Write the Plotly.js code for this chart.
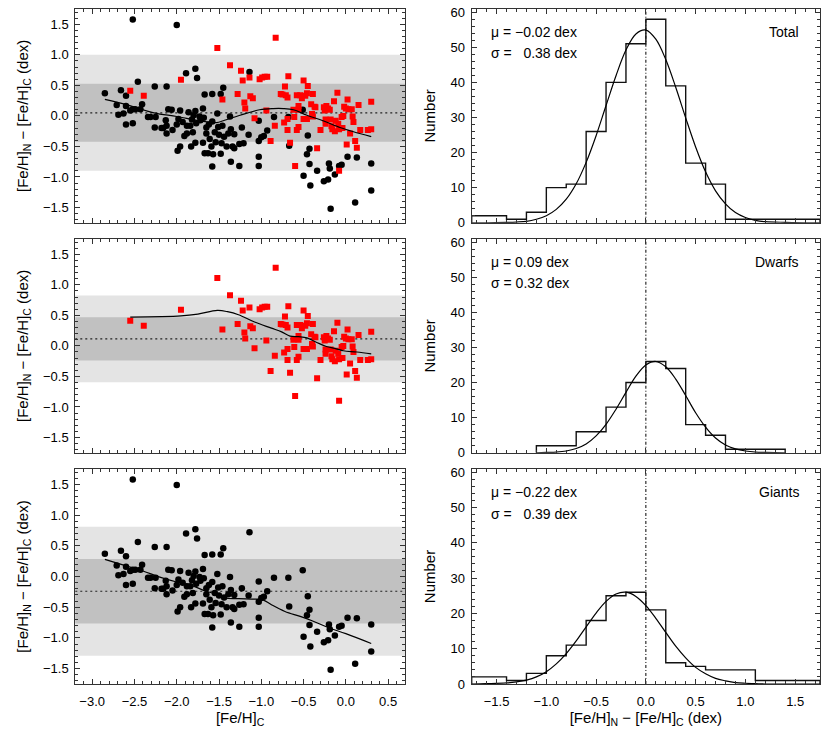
<!DOCTYPE html>
<html>
<head>
<meta charset="utf-8">
<script src="https://cdn.plot.ly/plotly-3.0.1.min.js"></script>
<style>
  html, body { margin: 0; padding: 0; background: #fff; }
  #chart { width: 830px; height: 740px; }
</style>
</head>
<body>
<div id="chart"></div>
<script>
// [Fe/H] from the catalogue (C) vs. the new determination (N): giants, dwarfs and both together.

const FONT = "Liberation Sans, Arial, Helvetica, sans-serif";
const AX = "#333";

// Giants (black circles): [Fe/H]_C and [Fe/H]_N - [Fe/H]_C
const giantFeH = [
  -2.85, -2.71, -2.69, -2.66, -2.63, -2.60, -2.60, -2.60, -2.55, -2.52,
  -2.52, -2.52, -2.49, -2.46, -2.43, -2.41, -2.34, -2.31, -2.26, -2.26,
  -2.25, -2.18, -2.16, -2.13, -2.12, -2.12, -2.12, -2.10, -2.06, -2.05,
  -2.00, -2.00, -1.99, -1.98, -1.96, -1.96, -1.93, -1.91, -1.89, -1.88,
  -1.88, -1.86, -1.84, -1.83, -1.82, -1.81, -1.80, -1.78, -1.78, -1.78,
  -1.77, -1.76, -1.73, -1.72, -1.69, -1.69, -1.68, -1.67, -1.67, -1.65,
  -1.65, -1.63, -1.62, -1.61, -1.59, -1.58, -1.58, -1.58, -1.57, -1.55,
  -1.54, -1.52, -1.51, -1.50, -1.48, -1.48, -1.47, -1.46, -1.45, -1.44,
  -1.41, -1.39, -1.37, -1.36, -1.36, -1.34, -1.32, -1.32, -1.26, -1.26,
  -1.23, -1.21, -1.15, -1.14, -1.03, -1.03, -1.03, -1.03, -1.00, -0.97,
  -0.93, -0.85, -0.68, -0.67, -0.51, -0.50, -0.45, -0.46, -0.43, -0.43,
  -0.42, -0.34, -0.26, -0.21, -0.20, -0.19, -0.18, -0.13, -0.08, -0.05,
  0.02, 0.13, 0.11, 0.30, 0.30,
];
const giantDiff = [
  0.37, 0.18, 0.02, 0.42, 0.04, 0.33, 0.16, -0.14, 0.09, 1.58,
  0.11, -0.12, 0.11, 0.56, 0.11, 0.19, -0.02, -0.02, 0.48, -0.19,
  -0.02, -0.20, -0.20, -0.07, 0.48, -0.16, -0.29, 0.11, 0.10, -0.23,
  1.49, -0.14, -0.57, -0.05, 0.09, -0.50, -0.10, -0.33, 0.70, -0.16,
  -0.29, 0.06, -0.16, -0.50, -0.06, -0.27, 0.01, 0.77, 0.08, -0.44,
  -0.12, 0.62, -0.01, -0.07, 0.12, -0.44, -0.03, 0.35, -0.61, -0.19,
  -0.29, -0.61, -0.14, -0.38, -0.50, -0.09, 0.36, -0.83, -0.63, -0.27,
  -0.43, 0.04, -0.18, -0.31, 0.36, -0.62, -0.45, -0.16, 0.46, -0.34,
  -0.50, -0.29, -0.01, -0.22, -0.75, -0.50, -0.30, -0.53, -0.82, -0.46,
  -0.19, -0.45, -0.31, 0.72, -0.08, -0.41, -0.67, -0.82, -0.35, -0.33,
  -0.24, -0.02, -0.02, -0.49, 0.10, -0.98, -0.32, -0.63, -0.54, -0.79,
  -1.14, -0.90, -1.07, -1.04, -0.78, -0.86, -1.52, -0.96, -0.82, -0.80,
  -0.67, -0.68, -1.42, -0.78, -1.22,
];

// Dwarfs (red squares)
const dwarfFeH = [
  -2.55, -2.39, -1.95, -1.52, -1.46, -1.37, -1.28, -1.24, -1.22, -1.20,
  -1.19, -1.14, -1.13, -1.10, -1.08, -1.02, -0.99, -0.96, -0.94, -0.93,
  -0.89, -0.84, -0.83, -0.77, -0.75, -0.73, -0.72, -0.71, -0.69, -0.69,
  -0.69, -0.68, -0.66, -0.62, -0.61, -0.60, -0.58, -0.58, -0.56, -0.56,
  -0.56, -0.54, -0.52, -0.50, -0.50, -0.48, -0.46, -0.46, -0.45, -0.41,
  -0.40, -0.39, -0.39, -0.37, -0.36, -0.34, -0.30, -0.26, -0.25, -0.24,
  -0.24, -0.23, -0.21, -0.19, -0.18, -0.17, -0.16, -0.14, -0.13, -0.12,
  -0.10, -0.09, -0.08, -0.08, -0.05, -0.04, -0.03, -0.02, 0.00, 0.01,
  0.02, 0.03, 0.05, 0.07, 0.08, 0.09, 0.11, 0.13, 0.15, 0.17,
  0.26, 0.30, 0.30,
];
const dwarfDiff = [
  0.41, 0.33, 0.59, 1.11, 0.27, 0.83, 0.36, 0.74, 0.58, 0.22,
  0.12, 0.63, 0.32, 0.29, -0.04, 0.60, 0.63, 0.64, 0.09, 0.64,
  -0.41, -0.16, 1.28, 0.36, 0.35, -0.11, 0.48, 0.34, 0.30, -0.05,
  -0.23, 0.65, -0.44, 0.10, -0.02, -0.82, 0.34, -0.23, 0.16, 0.10,
  -0.18, 0.34, 0.29, 0.58, -0.05, 0.33, 0.37, -0.05, 0.49, 0.19,
  0.03, -0.01, 0.36, 0.15, 0.14, -0.53, -0.23, 0.14, 0.09, -0.06,
  -0.13, 0.16, 0.12, 0.10, -0.06, -0.17, -0.22, 0.24, -0.25, -0.08,
  0.38, -0.13, -0.22, -0.90, -0.02, -0.20, 0.00, 0.15, 0.12, -0.47,
  0.27, 0.11, -0.29, 0.11, -0.01, -0.10, -0.41, -0.52, 0.18, -0.23,
  -0.23, 0.23, -0.22,
];

// Running means
const totalTrendX = [-2.85, -2.59, -2.27, -2.00, -1.73, -1.53, -1.45, -1.25, -1.02, -0.86, -0.74, -0.62, -0.46, -0.27, -0.07, 0.09, 0.30];
const totalTrendY = [0.27, 0.18, 0.05, -0.01, -0.08, -0.11, -0.08, 0.01, 0.10, 0.12, 0.12, 0.10, 0.01, -0.08, -0.19, -0.26, -0.34];
const dwarfTrendX = [-2.55, -1.95, -1.75, -1.52, -1.40, -1.27, -1.08, -0.88, -0.76, -0.66, -0.56, -0.46, -0.35, -0.23, -0.13, -0.03, 0.13, 0.30];
const dwarfTrendY = [0.47, 0.49, 0.52, 0.58, 0.56, 0.51, 0.39, 0.29, 0.23, 0.16, 0.15, 0.13, 0.06, -0.01, -0.04, -0.08, -0.10, -0.13];
const giantTrendX = [-2.85, -2.59, -2.40, -2.20, -2.00, -1.84, -1.65, -1.51, -1.43, -1.27, -1.06, -0.98, -0.88, -0.72, -0.54, -0.40, -0.21, 0.00, 0.30];
const giantTrendY = [0.28, 0.17, 0.09, -0.01, -0.09, -0.14, -0.24, -0.30, -0.35, -0.36, -0.37, -0.38, -0.46, -0.57, -0.65, -0.72, -0.83, -0.93, -1.09];

// Mean offset (dotted line) and scatter (dark band 1 sigma, light band 2 sigma): Total, Dwarfs, Giants
const bandMean = [0.05, 0.115, -0.24];
const bandSigma = [0.475, 0.355, 0.525];

// Histograms of the offset: bin edges and counts
const totalEdges = [-1.75, -1.4, -1.2, -1.0, -0.8, -0.6, -0.4, -0.2, 0.0, 0.2, 0.4, 0.6, 0.8, 1.75];
const totalCounts = [2, 1, 3, 10, 11, 26, 40, 51, 58, 39, 17, 11, 1];
const dwarfEdges = [-1.1, -0.7, -0.4, -0.2, 0.0, 0.2, 0.4, 0.6, 0.8, 1.4];
const dwarfCounts = [2, 6, 13, 20, 26, 24, 8, 5, 1];
const giantEdges = [-1.75, -1.4, -1.2, -1.0, -0.8, -0.6, -0.4, -0.2, 0.0, 0.2, 0.4, 0.6, 1.1, 1.75];
const giantCounts = [2, 1, 3, 8, 11, 18, 25, 26, 21, 6, 5, 4, 1];

// Gaussian fits as drawn over the histograms
const totalFitX = [-1.75, -1.6, -1.4, -1.3, -1.2, -1.1, -1.0, -0.9, -0.8, -0.7, -0.6, -0.5, -0.4, -0.3, -0.2, -0.1, 0.0, 0.1, 0.2, 0.3, 0.4, 0.5, 0.6, 0.7, 0.8, 0.9, 1.0, 1.1, 1.2, 1.4, 1.6, 1.75];
const totalFitY = [0.0, 0.0, 0.1, 0.2, 0.4, 1.0, 2.0, 3.8, 6.7, 11.1, 17.2, 24.8, 33.4, 41.9, 49.2, 53.8, 54.9, 52.3, 46.5, 38.6, 29.9, 21.6, 14.5, 9.1, 5.4, 2.9, 1.5, 0.7, 0.3, 0.1, 0.0, 0.0];
const dwarfFitX = [-1.1, -1.0, -0.9, -0.8, -0.7, -0.6, -0.5, -0.4, -0.3, -0.2, -0.1, 0.0, 0.1, 0.2, 0.3, 0.4, 0.5, 0.6, 0.7, 0.8, 0.9, 1.0, 1.1, 1.2, 1.4];
const dwarfFitY = [0.0, 0.1, 0.2, 0.5, 1.2, 2.5, 4.8, 8.1, 12.4, 17.2, 21.8, 25.0, 26.0, 24.5, 21.0, 16.3, 11.4, 7.3, 4.2, 2.2, 1.1, 0.5, 0.2, 0.1, 0.0];
const giantFitX = [-1.75, -1.6, -1.4, -1.3, -1.2, -1.1, -1.0, -0.9, -0.8, -0.7, -0.6, -0.5, -0.4, -0.3, -0.2, -0.1, 0.0, 0.1, 0.2, 0.3, 0.4, 0.5, 0.6, 0.7, 0.8, 0.9, 1.0, 1.1, 1.2, 1.4, 1.75];
const giantFitY = [0.0, 0.1, 0.3, 0.6, 1.1, 2.0, 3.5, 5.7, 8.6, 12.2, 16.2, 20.1, 23.4, 25.5, 26.0, 24.8, 22.2, 18.6, 14.6, 10.7, 7.4, 4.7, 2.9, 1.6, 0.9, 0.4, 0.2, 0.1, 0.0, 0.0, 0.0];

const sampleNames = ["Total", "Dwarfs", "Giants"];
const muLabels = ["μ = −0.02 dex", "μ = 0.09 dex", "μ = −0.22 dex"];
const sigmaLabels = ["σ =   0.38 dex", "σ = 0.32 dex", "σ =   0.39 dex"];

const DIFF_TITLE = "[Fe/H]<sub>N</sub> − [Fe/H]<sub>C</sub> (dex)";

// Outline of a histogram from its edges and counts (drawn with shape "hv").
function steps(edges, counts) {
  const x = [edges[0]], y = [0];
  counts.forEach((c, i) => { x.push(edges[i]); y.push(c); });
  x.push(edges[edges.length - 1]);
  y.push(0);
  return { x, y };
}

function giantsTrace(xa, ya) {
  return {
    x: giantFeH, y: giantDiff, xaxis: xa, yaxis: ya, type: "scatter", mode: "markers",
    marker: { symbol: "circle", size: 6.5, color: "#000" }, hoverinfo: "skip",
  };
}
function dwarfsTrace(xa, ya) {
  return {
    x: dwarfFeH, y: dwarfDiff, xaxis: xa, yaxis: ya, type: "scatter", mode: "markers",
    marker: { symbol: "square", size: 6, color: "#ff0000" }, hoverinfo: "skip",
  };
}
function trendTrace(x, y, xa, ya) {
  return { x, y, xaxis: xa, yaxis: ya, type: "scatter", mode: "lines", line: { color: "#000", width: 1.2, shape: "spline" }, hoverinfo: "skip" };
}
function histTraces(edges, counts, fx, fy, xa, ya) {
  const s = steps(edges, counts);
  return [
    { x: s.x, y: s.y, xaxis: xa, yaxis: ya, type: "scatter", mode: "lines", line: { color: "#111", width: 1.4, shape: "hv" }, hoverinfo: "skip" },
    { x: fx, y: fy, xaxis: xa, yaxis: ya, type: "scatter", mode: "lines", line: { color: "#000", width: 1.2, shape: "spline" }, hoverinfo: "skip" },
  ];
}

const traces = [
  giantsTrace("x", "y"), dwarfsTrace("x", "y"), trendTrace(totalTrendX, totalTrendY, "x", "y"),
  ...histTraces(totalEdges, totalCounts, totalFitX, totalFitY, "x2", "y2"),
  dwarfsTrace("x3", "y3"), trendTrace(dwarfTrendX, dwarfTrendY, "x3", "y3"),
  ...histTraces(dwarfEdges, dwarfCounts, dwarfFitX, dwarfFitY, "x4", "y4"),
  giantsTrace("x5", "y5"), trendTrace(giantTrendX, giantTrendY, "x5", "y5"),
  ...histTraces(giantEdges, giantCounts, giantFitX, giantFitY, "x6", "y6"),
];

const tickFont = { family: FONT, size: 13, color: "#000" };
const titleFont = { family: FONT, size: 15, color: "#000" };

function axis(extra, minorStep) {
  return Object.assign({
    showline: true, linecolor: AX, linewidth: 1, mirror: "ticks",
    ticks: "inside", ticklen: 5, tickwidth: 1, tickcolor: AX,
    minor: { ticks: "inside", ticklen: 3, tickwidth: 1, tickcolor: AX, dtick: minorStep, showgrid: false },
    showgrid: false, zeroline: false, tickfont: tickFont, fixedrange: true,
  }, extra);
}

const colL = [0.0907, 0.488];
const colR = [0.5683, 0.988];
const rows = [[0.699, 0.9878], [0.3882, 0.677], [0.0757, 0.3662]];

const layout = {
  width: 830, height: 740,
  margin: { l: 0, r: 0, t: 0, b: 0 },
  paper_bgcolor: "white", plot_bgcolor: "rgba(0,0,0,0)",
  showlegend: false,
  font: { family: FONT, color: "#000" },
  shapes: [],
  annotations: [],
};

const leftIds = ["", "3", "5"];
const rightIds = ["2", "4", "6"];
for (let r = 0; r < 3; r++) {
  const last = r === 2;
  const li = leftIds[r], ri = rightIds[r];
  layout["xaxis" + li] = axis({
    domain: colL, anchor: "y" + li, range: [-3.2, 0.7], dtick: 0.5, tick0: 0, tickformat: ".1f",
    showticklabels: last, ticklabelstandoff: 5,
    title: last ? { text: "[Fe/H]<sub>C</sub>", font: titleFont, standoff: 4 } : undefined,
  }, 0.1);
  layout["yaxis" + li] = axis({
    domain: rows[r], anchor: "x" + li, range: [-1.75, 1.75], dtick: 0.5, tick0: 0, tickformat: ".1f",
    ticklabelstandoff: 3,
    title: { text: DIFF_TITLE, font: titleFont, standoff: 10 },
  }, 0.1);
  layout["xaxis" + ri] = axis({
    domain: colR, anchor: "y" + ri, range: [-1.75, 1.75], dtick: 0.5, tick0: 0, tickformat: ".1f",
    showticklabels: last, ticklabelstandoff: 5,
    title: last ? { text: DIFF_TITLE, font: titleFont, standoff: 4 } : undefined,
  }, 0.1);
  layout["yaxis" + ri] = axis({
    domain: rows[r], anchor: "x" + ri, range: [0, 60.9], dtick: 10, tick0: 0,
    ticklabelstandoff: 3,
    title: { text: "Number", font: titleFont, standoff: 11 },
  }, 2);

  // bands and mean offset on the scatter panels
  const m = bandMean[r], s = bandSigma[r];
  const xr = "x" + li + " domain", yr = "y" + li;
  layout.shapes.push(
    { type: "rect", layer: "below", xref: xr, yref: yr, x0: 0, x1: 1, y0: m - 2 * s, y1: m + 2 * s, fillcolor: "#e4e4e4", line: { width: 0 } },
    { type: "rect", layer: "below", xref: xr, yref: yr, x0: 0, x1: 1, y0: m - s, y1: m + s, fillcolor: "#c1c1c1", line: { width: 0 } },
    { type: "line", layer: "below", xref: xr, yref: yr, x0: 0, x1: 1, y0: m, y1: m, line: { color: "#222", width: 1.2, dash: "2px,3px" } },
  );
  // zero offset on the histograms
  layout.shapes.push({
    type: "line", layer: "below", xref: "x" + ri, yref: "y" + ri + " domain", x0: 0, x1: 0, y0: 0, y1: 1,
    line: { color: "#000", width: 1, dash: "3px,2px,1px,2px" },
  });

  const xd = "x" + ri + " domain", yd = "y" + ri + " domain";
  const ann = { xref: xd, yref: yd, showarrow: false, font: { family: FONT, size: 14, color: "#000" } };
  const keepSpaces = (t) => t.replace(/ {2,}/g, (sp) => "\u00a0".repeat(sp.length));
  layout.annotations.push(
    Object.assign({}, ann, { x: 0.05, y: 0.894, xanchor: "left", yanchor: "middle", text: keepSpaces(muLabels[r]) }),
    Object.assign({}, ann, { x: 0.05, y: 0.793, xanchor: "left", yanchor: "middle", text: keepSpaces(sigmaLabels[r]) }),
    Object.assign({}, ann, { x: 0.945, y: 0.894, xanchor: "right", yanchor: "middle", text: sampleNames[r] }),
  );
}

Plotly.newPlot("chart", traces, layout, { displayModeBar: false, staticPlot: true });
</script>
</body>
</html>
